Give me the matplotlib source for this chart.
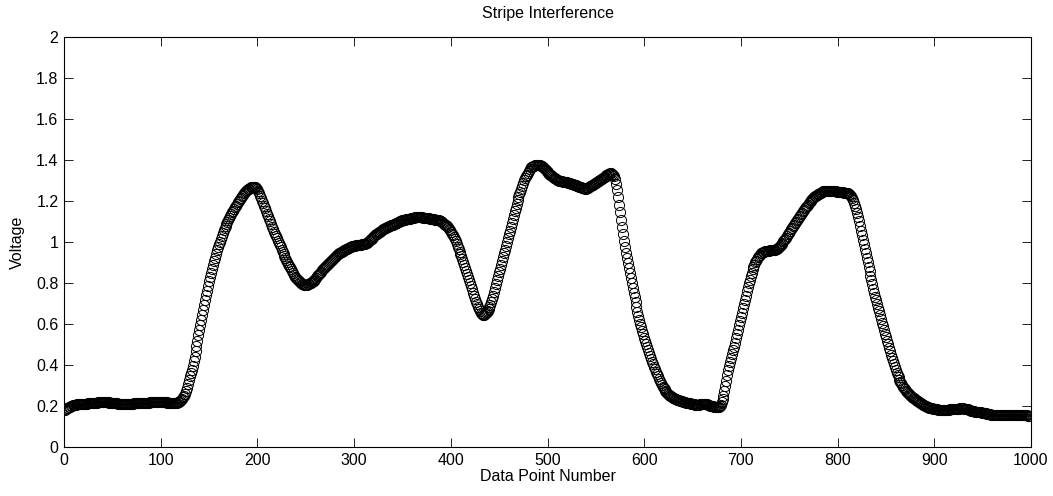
import matplotlib
matplotlib.use("Agg")
import matplotlib.pyplot as plt
from matplotlib.ticker import FuncFormatter

plt.rcParams['font.family'] = ['Liberation Sans', 'DejaVu Sans']

# voltage readings, data point 1..1000
voltage = [
    0.18, 0.184, 0.188, 0.191, 0.195, 0.197, 0.199, 0.201, 0.203, 0.205,
    0.206, 0.207, 0.208, 0.209, 0.21, 0.21, 0.21, 0.21, 0.21, 0.21,
    0.211, 0.211, 0.212, 0.212, 0.213, 0.213, 0.214, 0.214, 0.215, 0.215,
    0.216, 0.216, 0.217, 0.217, 0.218, 0.218, 0.219, 0.219, 0.22, 0.22,
    0.22, 0.22, 0.219, 0.219, 0.218, 0.218, 0.217, 0.216, 0.216, 0.215,
    0.215, 0.214, 0.214, 0.213, 0.213, 0.212, 0.211, 0.211, 0.21, 0.21,
    0.21, 0.21, 0.21, 0.211, 0.211, 0.211, 0.211, 0.212, 0.212, 0.212,
    0.212, 0.213, 0.213, 0.213, 0.214, 0.214, 0.214, 0.215, 0.215, 0.215,
    0.215, 0.216, 0.216, 0.216, 0.217, 0.217, 0.217, 0.217, 0.218, 0.218,
    0.218, 0.218, 0.219, 0.219, 0.219, 0.219, 0.22, 0.22, 0.22, 0.22,
    0.22, 0.22, 0.219, 0.219, 0.218, 0.218, 0.217, 0.216, 0.216, 0.215,
    0.215, 0.214, 0.214, 0.213, 0.213, 0.214, 0.216, 0.218, 0.221, 0.225,
    0.23, 0.236, 0.243, 0.251, 0.26, 0.275, 0.29, 0.307, 0.325, 0.344,
    0.36, 0.376, 0.397, 0.418, 0.44, 0.466, 0.492, 0.518, 0.544, 0.57,
    0.595, 0.619, 0.644, 0.668, 0.692, 0.717, 0.74, 0.762, 0.785, 0.808,
    0.83, 0.849, 0.868, 0.886, 0.905, 0.924, 0.942, 0.96, 0.974, 0.988,
    1.002, 1.016, 1.03, 1.044, 1.057, 1.07, 1.08, 1.09, 1.099, 1.108,
    1.117, 1.126, 1.135, 1.144, 1.153, 1.161, 1.17, 1.178, 1.186, 1.193,
    1.2, 1.208, 1.215, 1.223, 1.23, 1.238, 1.245, 1.249, 1.253, 1.257,
    1.26, 1.263, 1.266, 1.268, 1.27, 1.27, 1.269, 1.267, 1.264, 1.26,
    1.25, 1.238, 1.226, 1.213, 1.2, 1.188, 1.176, 1.165, 1.152, 1.139,
    1.126, 1.113, 1.1, 1.087, 1.074, 1.061, 1.05, 1.04, 1.029, 1.018,
    1.007, 0.996, 0.985, 0.974, 0.963, 0.952, 0.941, 0.93, 0.921, 0.912,
    0.903, 0.894, 0.885, 0.876, 0.867, 0.858, 0.848, 0.839, 0.83, 0.824,
    0.818, 0.813, 0.808, 0.804, 0.8, 0.797, 0.794, 0.792, 0.79, 0.79,
    0.791, 0.793, 0.795, 0.798, 0.801, 0.804, 0.808, 0.812, 0.816, 0.82,
    0.826, 0.832, 0.838, 0.844, 0.85, 0.856, 0.862, 0.868, 0.874, 0.88,
    0.885, 0.89, 0.895, 0.899, 0.903, 0.908, 0.912, 0.917, 0.921, 0.926,
    0.93, 0.935, 0.94, 0.945, 0.948, 0.951, 0.953, 0.956, 0.958, 0.96,
    0.962, 0.965, 0.967, 0.97, 0.972, 0.975, 0.977, 0.979, 0.98, 0.981,
    0.982, 0.983, 0.984, 0.985, 0.985, 0.986, 0.987, 0.988, 0.989, 0.99,
    0.99, 0.993, 0.997, 1.001, 1.005, 1.009, 1.013, 1.017, 1.021, 1.025,
    1.029, 1.033, 1.037, 1.04, 1.044, 1.047, 1.051, 1.054, 1.058, 1.061,
    1.064, 1.067, 1.07, 1.073, 1.075, 1.077, 1.079, 1.081, 1.083, 1.085,
    1.088, 1.09, 1.092, 1.094, 1.096, 1.098, 1.1, 1.102, 1.104, 1.106,
    1.107, 1.108, 1.109, 1.11, 1.111, 1.112, 1.113, 1.114, 1.115, 1.116,
    1.117, 1.118, 1.12, 1.12, 1.12, 1.121, 1.121, 1.12, 1.12, 1.12,
    1.119, 1.118, 1.118, 1.117, 1.116, 1.115, 1.115, 1.114, 1.113, 1.113,
    1.112, 1.111, 1.11, 1.109, 1.108, 1.107, 1.106, 1.105, 1.104, 1.1,
    1.097, 1.093, 1.089, 1.085, 1.081, 1.077, 1.072, 1.065, 1.057, 1.048,
    1.04, 1.032, 1.024, 1.016, 1.005, 0.992, 0.978, 0.965, 0.952, 0.94,
    0.93, 0.916, 0.902, 0.888, 0.874, 0.859, 0.845, 0.83, 0.815, 0.8,
    0.785, 0.769, 0.752, 0.736, 0.72, 0.708, 0.696, 0.684, 0.673, 0.663,
    0.655, 0.649, 0.645, 0.645, 0.648, 0.652, 0.658, 0.665, 0.674, 0.684,
    0.694, 0.705, 0.72, 0.737, 0.755, 0.774, 0.794, 0.815, 0.833, 0.852,
    0.87, 0.889, 0.908, 0.926, 0.945, 0.963, 0.982, 1.001, 1.019, 1.038,
    1.056, 1.075, 1.094, 1.112, 1.131, 1.149, 1.168, 1.186, 1.205, 1.219,
    1.232, 1.246, 1.26, 1.273, 1.287, 1.3, 1.31, 1.32, 1.329, 1.338,
    1.347, 1.356, 1.365, 1.368, 1.371, 1.373, 1.375, 1.377, 1.378, 1.378,
    1.377, 1.375, 1.372, 1.369, 1.365, 1.361, 1.356, 1.351, 1.346, 1.341,
    1.335, 1.332, 1.328, 1.325, 1.321, 1.318, 1.314, 1.311, 1.307, 1.304,
    1.3, 1.299, 1.298, 1.297, 1.296, 1.295, 1.294, 1.293, 1.292, 1.291,
    1.29, 1.288, 1.287, 1.285, 1.283, 1.282, 1.28, 1.278, 1.277, 1.275,
    1.273, 1.272, 1.27, 1.268, 1.267, 1.265, 1.263, 1.262, 1.26, 1.26,
    1.262, 1.265, 1.268, 1.271, 1.274, 1.277, 1.28, 1.284, 1.287, 1.29,
    1.293, 1.296, 1.299, 1.302, 1.306, 1.309, 1.312, 1.315, 1.319, 1.322,
    1.325, 1.328, 1.331, 1.334, 1.336, 1.336, 1.334, 1.329, 1.32, 1.306,
    1.285, 1.255, 1.22, 1.182, 1.145, 1.108, 1.072, 1.038, 1.005, 0.975,
    0.945, 0.92, 0.896, 0.872, 0.848, 0.824, 0.8, 0.777, 0.753, 0.73,
    0.707, 0.683, 0.66, 0.638, 0.62, 0.602, 0.585, 0.567, 0.55, 0.532,
    0.515, 0.5, 0.486, 0.472, 0.458, 0.444, 0.43, 0.417, 0.405, 0.392,
    0.38, 0.368, 0.356, 0.344, 0.333, 0.322, 0.312, 0.303, 0.295, 0.288,
    0.281, 0.275, 0.27, 0.265, 0.26, 0.255, 0.251, 0.247, 0.244, 0.241,
    0.238, 0.235, 0.233, 0.231, 0.229, 0.227, 0.225, 0.223, 0.222, 0.22,
    0.219, 0.218, 0.217, 0.216, 0.215, 0.214, 0.213, 0.212, 0.211, 0.21,
    0.209, 0.208, 0.207, 0.206, 0.205, 0.205, 0.206, 0.208, 0.21, 0.211,
    0.212, 0.212, 0.211, 0.21, 0.208, 0.206, 0.204, 0.202, 0.2, 0.199,
    0.198, 0.197, 0.197, 0.196, 0.196, 0.196, 0.197, 0.2, 0.207, 0.218,
    0.232, 0.25, 0.272, 0.297, 0.323, 0.35, 0.376, 0.395, 0.414, 0.433,
    0.452, 0.471, 0.49, 0.509, 0.53, 0.551, 0.572, 0.593, 0.614, 0.635,
    0.655, 0.676, 0.697, 0.718, 0.739, 0.76, 0.78, 0.8, 0.817, 0.834,
    0.851, 0.866, 0.878, 0.89, 0.9, 0.909, 0.918, 0.926, 0.933, 0.939,
    0.944, 0.948, 0.951, 0.953, 0.955, 0.956, 0.957, 0.958, 0.958, 0.959,
    0.959, 0.96, 0.96, 0.961, 0.962, 0.965, 0.968, 0.972, 0.977, 0.982,
    0.987, 0.992, 0.997, 1.003, 1.008, 1.014, 1.021, 1.029, 1.037, 1.045,
    1.053, 1.061, 1.069, 1.077, 1.085, 1.092, 1.099, 1.106, 1.114, 1.121,
    1.128, 1.135, 1.142, 1.149, 1.157, 1.164, 1.17, 1.176, 1.182, 1.188,
    1.194, 1.2, 1.205, 1.21, 1.215, 1.219, 1.222, 1.226, 1.229, 1.232,
    1.235, 1.238, 1.241, 1.244, 1.247, 1.249, 1.25, 1.251, 1.251, 1.251,
    1.25, 1.25, 1.249, 1.249, 1.248, 1.248, 1.247, 1.247, 1.246, 1.246,
    1.245, 1.245, 1.244, 1.244, 1.243, 1.242, 1.241, 1.24, 1.239, 1.238,
    1.237, 1.233, 1.228, 1.222, 1.214, 1.205, 1.192, 1.177, 1.16, 1.14,
    1.12, 1.1, 1.078, 1.056, 1.034, 1.012, 0.99, 0.968, 0.946, 0.924,
    0.902, 0.88, 0.858, 0.836, 0.815, 0.794, 0.773, 0.752, 0.733, 0.715,
    0.697, 0.679, 0.661, 0.643, 0.625, 0.607, 0.589, 0.571, 0.553, 0.535,
    0.517, 0.5, 0.483, 0.467, 0.451, 0.435, 0.419, 0.403, 0.388, 0.375,
    0.363, 0.351, 0.34, 0.329, 0.319, 0.31, 0.302, 0.294, 0.287, 0.281,
    0.275, 0.269, 0.264, 0.259, 0.254, 0.249, 0.245, 0.241, 0.237, 0.233,
    0.229, 0.225, 0.222, 0.219, 0.216, 0.213, 0.21, 0.207, 0.204, 0.201,
    0.199, 0.197, 0.195, 0.193, 0.191, 0.19, 0.189, 0.188, 0.187, 0.186,
    0.185, 0.184, 0.183, 0.182, 0.182, 0.181, 0.181, 0.181, 0.181, 0.181,
    0.181, 0.181, 0.182, 0.182, 0.182, 0.183, 0.183, 0.183, 0.184, 0.184,
    0.185, 0.185, 0.186, 0.186, 0.187, 0.187, 0.188, 0.188, 0.188, 0.188,
    0.187, 0.186, 0.185, 0.184, 0.183, 0.182, 0.18, 0.178, 0.176, 0.175,
    0.174, 0.173, 0.172, 0.172, 0.172, 0.171, 0.17, 0.169, 0.168, 0.167,
    0.166, 0.165, 0.164, 0.163, 0.162, 0.161, 0.16, 0.159, 0.158, 0.157,
    0.156, 0.155, 0.155, 0.155, 0.155, 0.155, 0.155, 0.155, 0.155, 0.156,
    0.156, 0.156, 0.156, 0.156, 0.156, 0.156, 0.156, 0.156, 0.156, 0.156,
    0.156, 0.156, 0.156, 0.156, 0.156, 0.156, 0.155, 0.155, 0.155, 0.155,
    0.155, 0.155, 0.154, 0.154, 0.154, 0.154, 0.153, 0.153, 0.153, 0.153,
]
point_number = list(range(1, len(voltage) + 1))

x_ticks = list(range(0, 1001, 100))
y_ticks = [0, 0.2, 0.4, 0.6, 0.8, 1.0, 1.2, 1.4, 1.6, 1.8, 2.0]

fig = plt.figure(figsize=(10.53, 4.96), dpi=100)
ax = fig.add_axes([0.0608, 0.0988, 0.9183, 0.8266])

# open circles, no connecting line (MATLAB 'o' style)
ax.plot(point_number, voltage, linestyle='none', marker='o',
        markersize=7.3, markerfacecolor='none', markeredgecolor='black',
        markeredgewidth=0.7)

ax.set_xlim(0, 1000)
ax.set_ylim(0, 2)
ax.set_xticks(x_ticks)
ax.set_yticks(y_ticks)
ax.yaxis.set_major_formatter(FuncFormatter(lambda v, p: f'{v:g}'))

ax.tick_params(direction='in', top=True, right=True, length=6.5,
               width=0.6, labelsize=11.5, pad=4)
for s in ax.spines.values():
    s.set_linewidth(0.8)

ax.set_title('Stripe Interference', fontsize=11.5, pad=14)
ax.set_xlabel('Data Point Number', fontsize=11.5, labelpad=1)
ax.set_ylabel('Voltage', fontsize=11.5, labelpad=8)

fig.savefig('out.png', dpi=100)
